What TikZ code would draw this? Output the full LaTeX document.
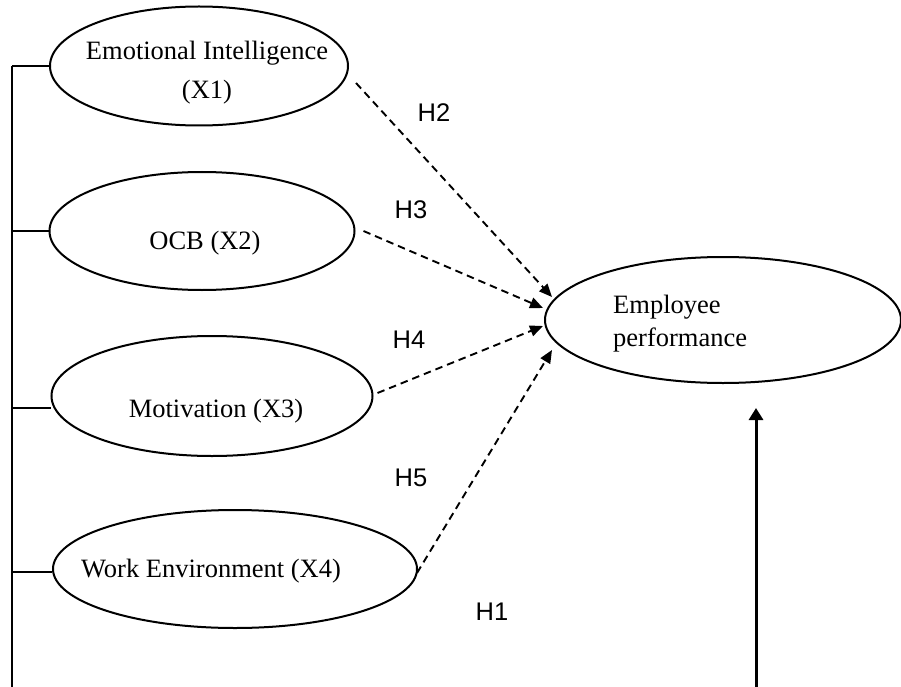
\documentclass[tikz,border=0pt]{standalone}
\usepackage{fontspec}
\setmainfont{Liberation Serif}
\newfontfamily\hfont{Liberation Sans}
\usetikzlibrary{shapes.geometric,arrows.meta}
\begin{document}
\begin{tikzpicture}[x=1pt,y=-1pt,
  ell/.style={draw,ellipse,line width=2pt,inner sep=0pt},
  vtext/.style={font=\fontsize{26.5}{39}\selectfont,inner sep=0pt},
  hyp/.style={font=\hfont\fontsize{25.5}{30}\selectfont,inner sep=0pt},
  brline/.style={line width=1.2pt},
  dasharrow/.style={line width=1.9pt,dash pattern=on 7.5pt off 5pt,-{Triangle[length=13pt,width=11pt]}},
  solidarrow/.style={line width=3pt,-{Triangle[length=12pt,width=14pt]}}]
\useasboundingbox (0,0) rectangle (901,687);
\fill[white] (0,0) rectangle (901,687);
% ellipses
\node[ell,minimum width=298pt,minimum height=119pt] (e1) at (199,66) {};
\node[vtext,align=center] (t1) at (207,73) {Emotional Intelligence\\(X1)};
\node[ell,minimum width=305pt,minimum height=118pt] (e2) at (202,231) {};
\node[vtext] (t2) at (205,243) {OCB (X2)};
\node[ell,minimum width=321pt,minimum height=120pt] (e3) at (212,396) {};
\node[vtext] (t3) at (216,411) {Motivation (X3)};
\node[ell,minimum width=364pt,minimum height=118pt] (e4) at (235,569) {};
\node[vtext] (t4) at (211,571) {Work Environment (X4)};
\node[ell,minimum width=356pt,minimum height=126pt] (ep) at (723,320) {};
\node[vtext,align=left,anchor=west,font=\fontsize{26.5}{33}\selectfont] (tp) at (613,324) {Employee\\performance};
% hypothesis labels
\node[hyp] (h2) at (434,113) {H2};
\node[hyp] (h3) at (411,210) {H3};
\node[hyp] (h4) at (409,340) {H4};
\node[hyp] (h5) at (411,478) {H5};
\node[hyp] (h1) at (492,612) {H1};
% left bracket
\coordinate (brtop) at (12,66);
\coordinate (brbot) at (12,687);
\draw[brline] (brtop) -- (brbot);
\draw[brline] (e1.west) -- (e1.west -| brtop);
\draw[brline] (e2.west) -- (e2.west -| brtop);
\draw[brline] ([yshift=-12pt]e3.west) -- ([yshift=-12pt]e3.west -| brtop);
\draw[brline] ([yshift=-3pt]e4.west) -- ([yshift=-3pt]e4.west -| brtop);
% dashed arrows
\draw[dasharrow] ([xshift=7pt,yshift=-17pt]e1.east) -- ([xshift=8pt,yshift=23pt]ep.west);
\draw[dasharrow] ([xshift=8pt]e2.east) -- ([xshift=-1pt,yshift=12pt]ep.west);
\draw[dasharrow] ([xshift=4pt,yshift=3pt]e3.east) -- ([xshift=-1pt,yshift=-6pt]ep.west);
\draw[dasharrow] ([xshift=-1pt,yshift=-4pt]e4.east) -- ([xshift=8pt,yshift=-30pt]ep.west);
% vertical arrow
\coordinate (arrbot) at (756,687);
\coordinate (arrtip) at (756,408);
\draw[solidarrow] (arrbot) -- (arrtip);
\end{tikzpicture}
\end{document}
